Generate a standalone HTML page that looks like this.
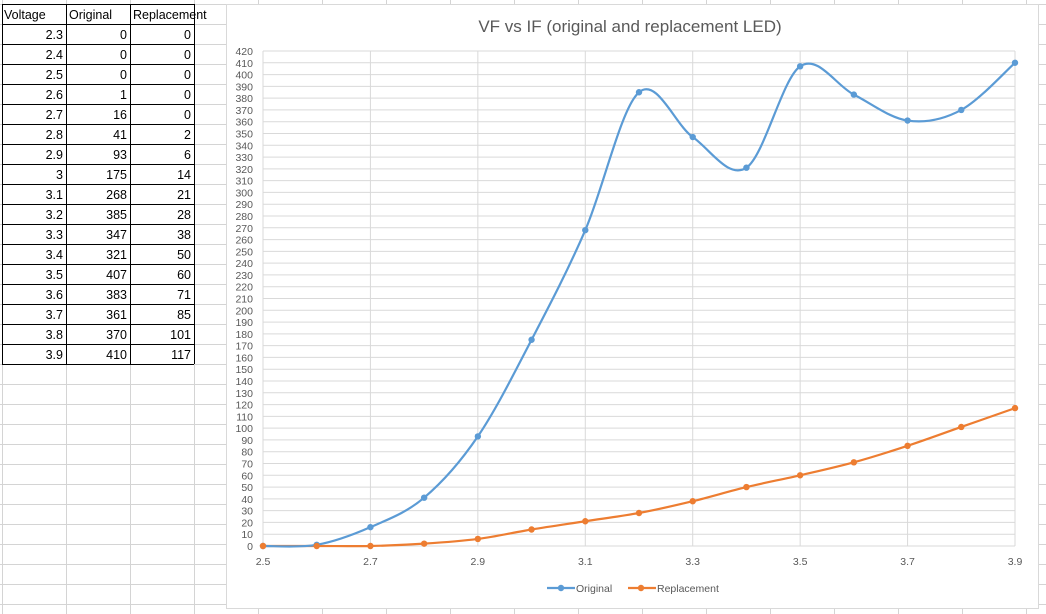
<!DOCTYPE html>
<html><head><meta charset="utf-8"><style>
body{margin:0;width:1046px;height:614px;overflow:hidden;background:#fff;font-family:"Liberation Sans",Calibri,sans-serif;}
svg{position:absolute;left:0;top:0}
</style></head><body>
<svg id="s" width="1046" height="614" xmlns="http://www.w3.org/2000/svg"></svg>
<script>
const s=document.getElementById('s');let h='';
for(let y=4;y<=614;y+=20) h+=`<line x1="0" x2="1046" y1="${y+0.5}" y2="${y+0.5}" stroke="#d4d4d4"/>`;
for(let x=2;x<=1046;x+=64) h+=`<line x1="${x+0.5}" x2="${x+0.5}" y1="0" y2="614" stroke="#d4d4d4"/>`;
const data=[[2.3,0,0],[2.4,0,0],[2.5,0,0],[2.6,1,0],[2.7,16,0],[2.8,41,2],[2.9,93,6],[3,175,14],[3.1,268,21],[3.2,385,28],[3.3,347,38],[3.4,321,50],[3.5,407,60],[3.6,383,71],[3.7,361,85],[3.8,370,101],[3.9,410,117]];
h+=`<rect x="195" y="5" width="31" height="19" fill="#fff"/>`;
for(let i=0;i<=18;i++){let y=4+i*20;h+=`<line x1="2" x2="194" y1="${y+0.5}" y2="${y+0.5}" stroke="#000"/>`;}
[2,66,130,194].forEach(x=>h+=`<line x1="${x+0.5}" x2="${x+0.5}" y1="4" y2="364" stroke="#000"/>`);
h+=`<text x="4" y="19" font-size="12.5" fill="#000">Voltage</text><text x="69" y="19" font-size="12.5">Original</text><text x="133" y="19" font-size="12.5">Replacement</text>`;
data.forEach((r,i)=>{let y=39+i*20;h+=`<text x="63" y="${y}" font-size="12.5" text-anchor="end">${r[0]}</text><text x="127" y="${y}" font-size="12.5" text-anchor="end">${r[1]}</text><text x="191" y="${y}" font-size="12.5" text-anchor="end">${r[2]}</text>`;});
h+=`<rect x="226.5" y="4.5" width="812" height="604" fill="#fff" stroke="#d9d9d9"/>`;
h+=`<text x="630" y="32" font-size="17" fill="#595959" text-anchor="middle">VF vs IF (original and replacement LED)</text>`;
const X=v=>263+(v-2.5)/1.4*752, Y=v=>546-v*495/420;
for(let v=0;v<=420;v+=10){let y=Y(v);h+=`<line x1="263" x2="1015" y1="${y}" y2="${y}" stroke="#d9d9d9"/><text x="253" y="${y+4}" font-size="10.5" fill="#595959" text-anchor="end">${v}</text>`;}
for(let k=0;k<=7;k++){let v=2.5+k*0.2;let x=X(v);h+=`<line x1="${x}" x2="${x}" y1="${Y(420)}" y2="546" stroke="#d9d9d9"/><text x="${x}" y="565" font-size="10.5" fill="#595959" text-anchor="middle">${(Math.round(v*10)/10).toString()}</text>`;}
const pts=data.slice(2);
const o=pts.map(r=>[X(r[0]),Y(r[1])]), r2=pts.map(r=>[X(r[0]),Y(r[2])]);
function smooth(p){let d=`M${p[0][0]},${p[0][1]}`;for(let i=0;i<p.length-1;i++){let p0=p[i-1]||p[i],p1=p[i],p2=p[i+1],p3=p[i+2]||p2;let c1=[p1[0]+(p2[0]-p0[0])/6,p1[1]+(p2[1]-p0[1])/6],c2=[p2[0]-(p3[0]-p1[0])/6,p2[1]-(p3[1]-p1[1])/6];d+=`C${c1},${c2},${p2}`;}return d;}
h+=`<path d="${smooth(r2)}" fill="none" stroke="#ed7d31" stroke-width="2.2"/>`;
h+=`<path d="${smooth(o)}" fill="none" stroke="#5b9bd5" stroke-width="2.2"/>`;
o.forEach(p=>h+=`<circle cx="${p[0]}" cy="${p[1]}" r="3.2" fill="#5b9bd5"/>`);
r2.forEach(p=>h+=`<circle cx="${p[0]}" cy="${p[1]}" r="3.2" fill="#ed7d31"/>`);
h+=`<line x1="547" x2="575" y1="588" y2="588" stroke="#5b9bd5" stroke-width="2.2"/><circle cx="561" cy="588" r="3.2" fill="#5b9bd5"/><text x="576" y="592" font-size="10.5" fill="#595959">Original</text>`;
h+=`<line x1="628" x2="656" y1="588" y2="588" stroke="#ed7d31" stroke-width="2.2"/><circle cx="641" cy="588" r="3.2" fill="#ed7d31"/><text x="657" y="592" font-size="10.5" fill="#595959">Replacement</text>`;
s.innerHTML=h;
</script>
</body></html>
